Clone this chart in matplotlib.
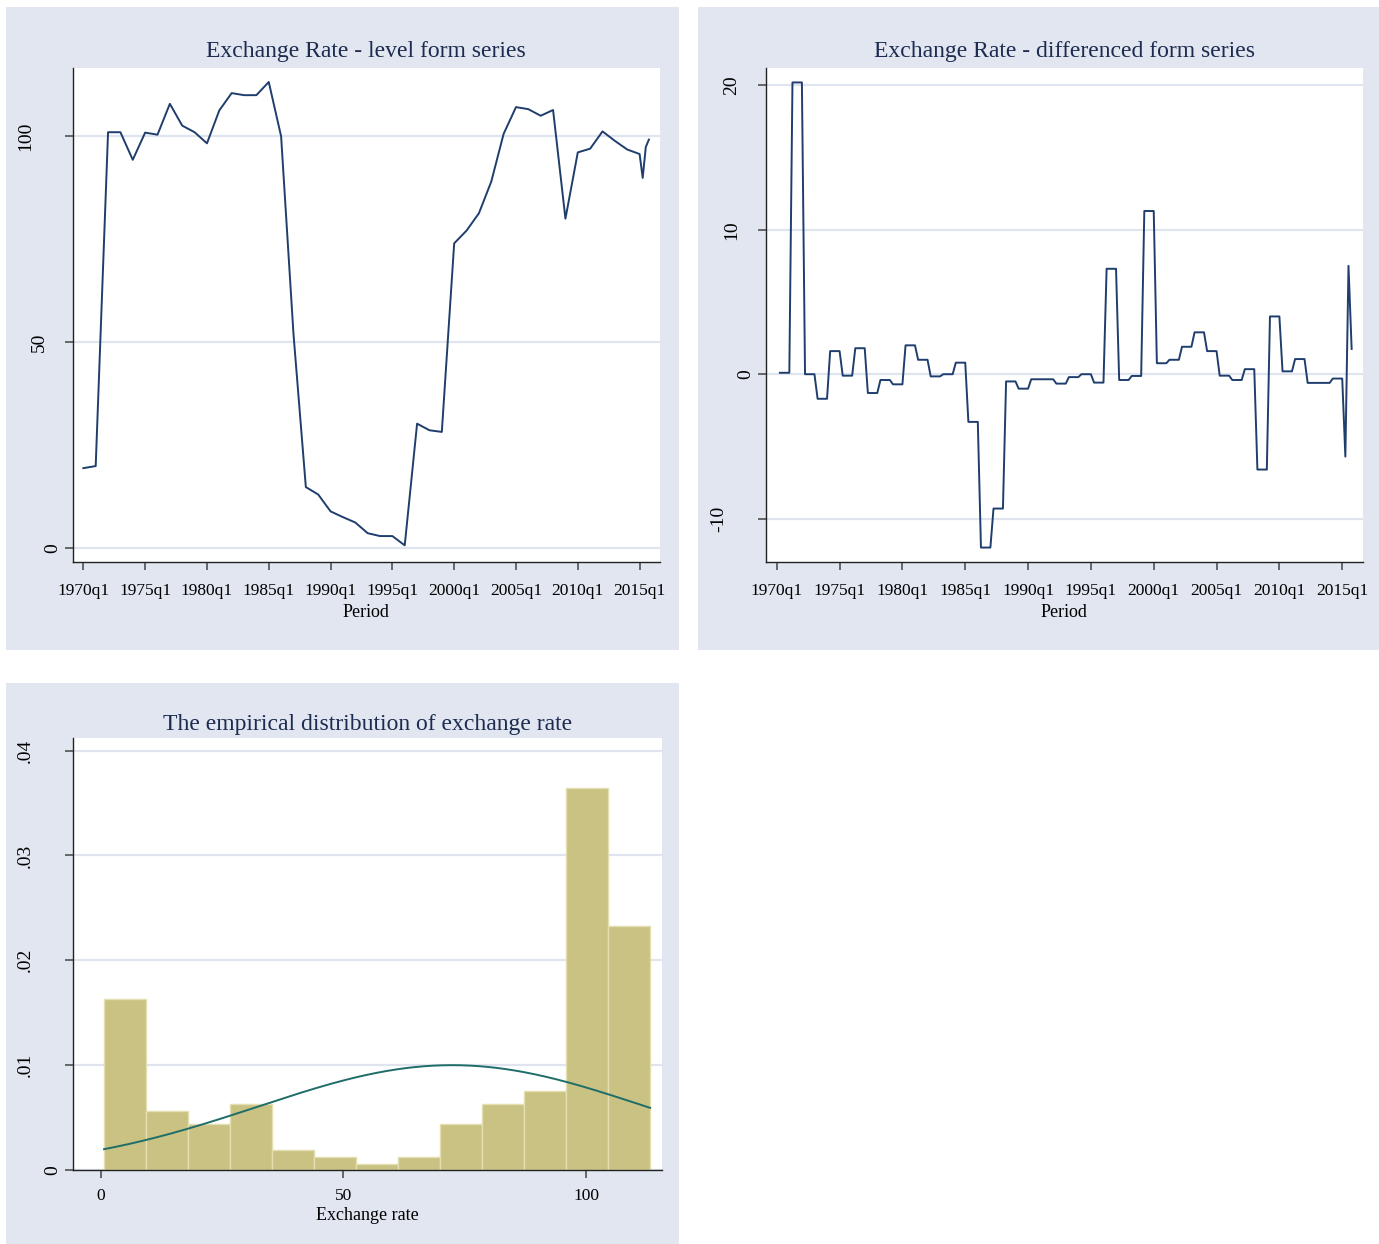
import numpy as np
import matplotlib
matplotlib.use("Agg")
import matplotlib.pyplot as plt
from matplotlib.patches import Rectangle
from matplotlib.transforms import blended_transform_factory, ScaledTranslation

plt.rcParams['font.family'] = ['Liberation Serif', 'DejaVu Serif']

# ---- data ----
# level series: annual observations 1970-2015, then the last three quarters of 2015
level_period = list(np.arange(1970, 2016)) + [2015.25, 2015.5, 2015.75]
level_value = [19.4, 19.9, 101.0, 101.0, 94.3, 100.9, 100.4, 107.9, 102.6, 101.0,
               98.3, 106.3, 110.5, 110.0, 110.0, 113.2, 100.0, 52.0, 14.8, 13.0,
               8.9, 7.5, 6.2, 3.6, 2.9, 2.9, 0.65, 30.2, 28.6, 28.2,
               74.0, 77.1, 81.3, 89.0, 100.6, 107.1, 106.6, 105.0, 106.4, 80.0,
               96.1, 97.0, 101.2, 98.9, 96.8, 95.7, 89.9, 97.4, 99.2]

# quarterly first differences: one value per year (same for its four quarters),
# then 2015q2-2015q4
diff_per_year = [0.1, 20.2, 0.0, -1.7, 1.6, -0.1, 1.8, -1.3, -0.4, -0.7,
                 2.0, 1.0, -0.15, 0.0, 0.8, -3.3, -12.0, -9.3, -0.5, -1.0,
                 -0.35, -0.35, -0.65, -0.2, 0.0, -0.58, 7.3, -0.4, -0.12, 11.3,
                 0.76, 1.0, 1.9, 2.9, 1.6, -0.1, -0.4, 0.35, -6.6, 4.0,
                 0.2, 1.05, -0.6, -0.6, -0.3]
diff_last_quarters = [-5.7, 7.5, 1.75]
diff_value = list(np.repeat(diff_per_year, 4)) + diff_last_quarters
diff_period = 1970.25 + 0.25 * np.arange(len(diff_value))

period_ticks = list(range(1970, 2016, 5))
period_labels = [f"{y}q1" for y in period_ticks]

# histogram of the level series (density scale)
hist_start = 0.65
hist_width = 8.66
hist_density = [0.01634, 0.00566, 0.00436, 0.00626, 0.00188, 0.00127, 0.00060,
                0.00127, 0.00439, 0.00626, 0.00754, 0.03647, 0.02327]
norm_mean = 72.4
norm_sd = 39.9
rate_min, rate_max = 0.65, 113.2

# ---- styling ----
W, H = 1379, 1244
region_bg = '#e1e6f0'
grid_col = '#dfe4ef'
line_col = '#1f3d6d'
title_col = '#1c2b50'
bar_col = '#c9c283'
bar_edge = '#e3dfb0'
curve_col = '#1f6d69'


def px_rect(x0, y0, x1, y1):
    return [x0 / W, 1 - y1 / H, (x1 - x0) / W, (y1 - y0) / H]


fig = plt.figure(figsize=(W / 100, H / 100), dpi=100)
fig.patch.set_facecolor('white')

for (x0, y0, x1, y1) in [(6, 7, 679, 650), (698, 7, 1379, 650), (6, 683, 679, 1244)]:
    fig.add_artist(Rectangle((x0 / W, 1 - y1 / H), (x1 - x0) / W, (y1 - y0) / H,
                             transform=fig.transFigure, facecolor=region_bg,
                             edgecolor='none', zorder=-1))


def style_axes(ax, yticks, ylabels, xpad=7):
    ax.set_facecolor('white')
    for s in ['top', 'right']:
        ax.spines[s].set_visible(False)
    for s in ['left', 'bottom']:
        ax.spines[s].set_color('#222222')
        ax.spines[s].set_linewidth(1.0)
    ax.tick_params(axis='both', direction='out', length=6, width=1.1, color='#444444')
    ax.tick_params(axis='x', labelsize=12.5, pad=xpad)
    ax.set_yticks(yticks)
    ax.set_yticklabels([''] * len(yticks))
    ax.grid(axis='y', color=grid_col, linewidth=1.6)
    ax.set_axisbelow(True)
    # vertical y labels, shifted left by their length
    trans = blended_transform_factory(ax.transAxes, ax.transData)
    for v, lab in zip(yticks, ylabels):
        shift = (20 + 13.7 * (len(lab) - 1)) / 100
        ax.text(0, v, lab, rotation=90, ha='center', va='center', fontsize=14,
                transform=trans + ScaledTranslation(-shift, 0, fig.dpi_scale_trans))


# level form
ax1 = fig.add_axes(px_rect(72.7, 68, 660, 562))
ax1.plot(level_period, level_value, color=line_col, lw=1.4)
ax1.set_xlim(1969.14, 2016.65)
ax1.set_ylim(-3.4, 116.6)
style_axes(ax1, [0, 50, 100], ['0', '50', '100'], xpad=9)
ax1.set_xticks(period_ticks)
ax1.set_xticklabels(period_labels)
ax1.set_xlabel('Period', fontsize=13, labelpad=4)
ax1.set_title('Exchange Rate - level form series', fontsize=17, color=title_col, pad=8)

# differenced form
ax2 = fig.add_axes(px_rect(765.7, 68, 1362.7, 562))
ax2.plot(diff_period, diff_value, color=line_col, lw=1.4)
ax2.set_xlim(1969.12, 2016.63)
ax2.set_ylim(-13.0, 21.2)
style_axes(ax2, [-10, 0, 10, 20], ['-10', '0', '10', '20'], xpad=9)
ax2.set_xticks(period_ticks)
ax2.set_xticklabels(period_labels)
ax2.set_xlabel('Period', fontsize=13, labelpad=4)
ax2.set_title('Exchange Rate - differenced form series', fontsize=17, color=title_col, pad=8)

# empirical distribution
ax3 = fig.add_axes(px_rect(73, 738, 661.7, 1170))
edges = hist_start + hist_width * np.arange(len(hist_density))
ax3.bar(edges, hist_density, width=hist_width, align='edge', color=bar_col,
        edgecolor=bar_edge, linewidth=1.0, zorder=2)
xs = np.linspace(rate_min, rate_max, 300)
pdf = np.exp(-0.5 * ((xs - norm_mean) / norm_sd) ** 2) / (norm_sd * np.sqrt(2 * np.pi))
ax3.plot(xs, pdf, color=curve_col, lw=1.4, zorder=3)
ax3.set_xlim(-5.75, 115.6)
ax3.set_ylim(0, 0.0412)
style_axes(ax3, [0, 0.01, 0.02, 0.03, 0.04], ['0', '.01', '.02', '.03', '.04'], xpad=7)
ax3.set_xticks([0, 50, 100])
ax3.set_xticklabels(['0', '50', '100'])
ax3.set_xlabel('Exchange rate', fontsize=13, labelpad=2)
ax3.set_title('The empirical distribution of exchange rate', fontsize=17, color=title_col, pad=6)

fig.savefig('out.png', dpi=100, facecolor='white')
